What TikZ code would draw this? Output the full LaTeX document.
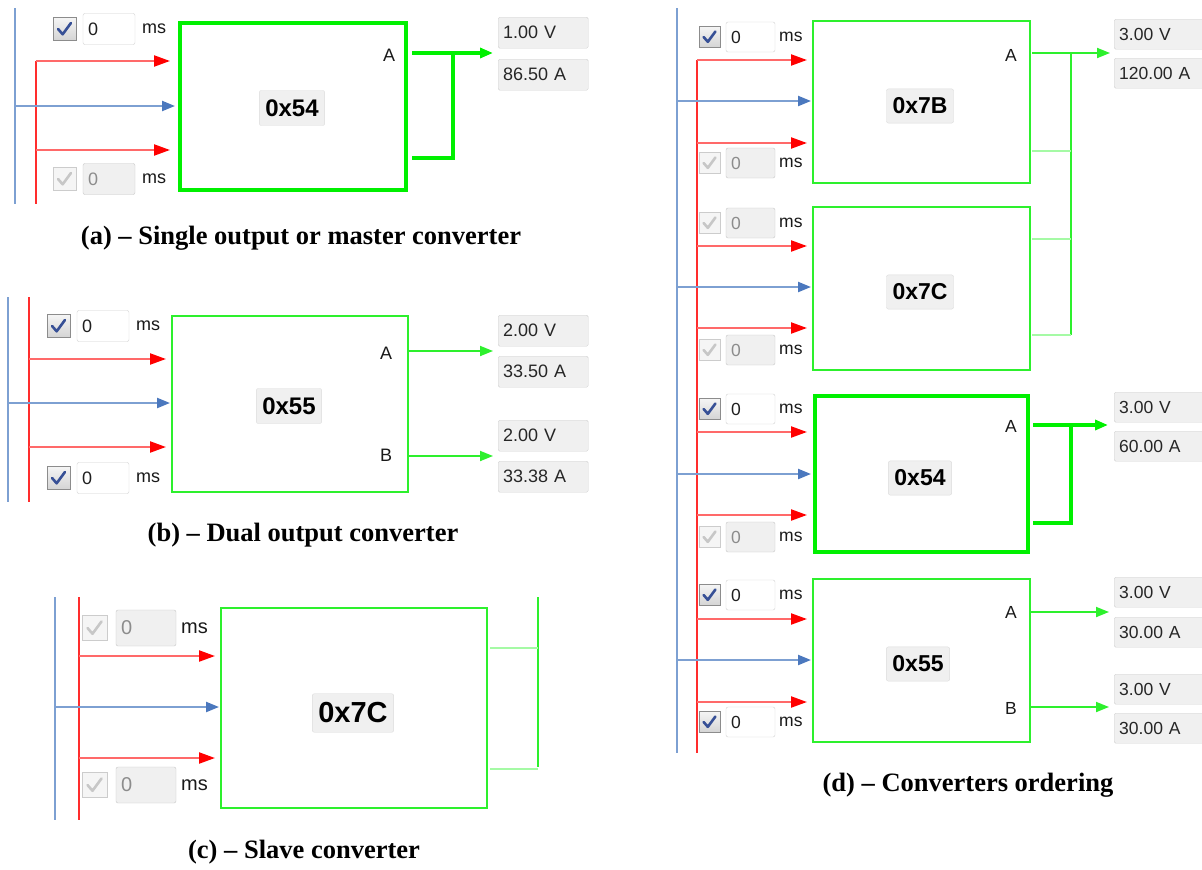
\documentclass[tikz,border=0pt]{standalone}
\usepackage{fontspec}
\setmainfont{Liberation Serif}
\newfontfamily\uifont{Liberation Sans}
\usetikzlibrary{arrows.meta,calc}
\definecolor{gthick}{RGB}{0,240,0}
\definecolor{gthin}{RGB}{45,240,45}
\definecolor{glight}{RGB}{165,250,165}
\definecolor{rline}{RGB}{255,105,105}
\definecolor{rbus}{RGB}{255,45,45}
\definecolor{rtip}{RGB}{255,0,0}
\definecolor{bline}{RGB}{125,160,210}
\definecolor{btip}{RGB}{75,120,190}
\definecolor{chkblue}{RGB}{55,80,150}
\def\cs{23}\def\tbtw{42}\def\tbh{31}\def\tbgap{7}\def\msgap{7}\def\uisz{18}\def\btnsz{24}
\tikzset{
 convthin/.style={draw=gthin, line width=1.6pt, inner sep=0pt, outer sep=0pt, anchor=north west},
 convthick/.style={draw=gthick, line width=3.6pt, inner sep=0pt, outer sep=0pt, anchor=north west},
 btn/.style={draw=black!14, fill=black!6, rounded corners=2pt, inner xsep=6pt, inner ysep=9pt, font=\uifont\bfseries\fontsize{\btnsz}{\btnsz}\selectfont},
 uitext/.style={inner sep=0pt, font=\uifont\fontsize{\uisz}{\uisz}\selectfont, text=black!90},
 vbox/.style={draw=black!18, fill=black!6, rounded corners=1.5pt, text width=80pt, align=left, inner xsep=5pt, inner ysep=0pt, anchor=north west, font=\uifont\fontsize{\uisz}{\uisz}\selectfont, text=black!85},
 cbxE/.style={draw=black!45, top color=black!4, bottom color=black!17, inner sep=0pt, outer sep=0pt},
 cbxD/.style={draw=black!20, fill=black!4, inner sep=0pt, outer sep=0pt},
 ckE/.style={draw=chkblue, line width=2.6pt, line cap=round, line join=round},
 ckD/.style={draw=black!22, line width=2.6pt, line cap=round, line join=round},
 tbE/.style={draw=black!18, fill=white, rounded corners=2pt, inner xsep=5pt, inner ysep=0pt, outer sep=0pt, align=left, font=\uifont\fontsize{\uisz}{\uisz}\selectfont, text=black!88},
 tbD/.style={draw=black!22, fill=black!6, rounded corners=2pt, inner xsep=5pt, inner ysep=0pt, outer sep=0pt, align=left, font=\uifont\fontsize{\uisz}{\uisz}\selectfont, text=black!45},
 redbus/.style={draw=rbus, line width=1.6pt},
 bluebus/.style={draw=bline, line width=1.6pt},
 redarr/.style={draw=rline, line width=2.2pt, -{Triangle[length=16pt,width=11pt,color=rtip]}, shorten >=6pt},
 bluearr/.style={draw=bline, line width=2.2pt, -{Triangle[length=13pt,width=10pt,color=btip]}, shorten >=2pt},
 gthickline/.style={draw=gthick, line width=3.4pt},
 gthinline/.style={draw=gthin, line width=1.8pt},
 glightline/.style={draw=glight, line width=2.2pt},
 garr/.style={-{Triangle[length=13pt,width=10pt]}, shorten >=5pt},
 captext/.style={font=\bfseries\fontsize{26.5}{30}\selectfont, inner sep=0pt},
}
\newcommand\dly[4]{%
  \node[cbx#4, minimum size=\cs pt, anchor=west] (#1c) at (#2,#3) {};
  \draw[ck#4] ($(#1c.north west)+(0.22*\cs,0.5*\cs)$) -- ($(#1c.north west)+(0.42*\cs,0.73*\cs)$) -- ($(#1c.north west)+(0.78*\cs,0.24*\cs)$);
  \node[tb#4, anchor=west, text width=\tbtw pt, minimum height=\tbh pt] (#1t) at ($(#1c.east)+(\tbgap,0)$) {0};
  \node[uitext, anchor=west] (#1m) at ($(#1t.east)+(\msgap,0)$) {ms};
}
\begin{document}
\begin{tikzpicture}[x=1pt,y=-1pt]
\useasboundingbox[fill=white] (0,0) rectangle (1202,870);

%%%%%%%%%%%%%%%% Panel (a)
\node[convthick, minimum width=226pt, minimum height=167pt] (A) at (180,23) {};
\node[btn] (Albl) at (292,108) {0x54};
\node[uitext] (AlA) at (389,55) {A};
\coordinate (Ab1) at (15,8); \coordinate (Ab2) at (15,204);
\coordinate (Ar1) at (36,61); \coordinate (Ar2) at (36,204);
\draw[bluebus] (Ab1) -- (Ab2);
\draw[redbus] (Ar1) -- (Ar2);
\coordinate (Abj) at (15,106); \coordinate (Ar3) at (36,150);
\draw[redarr, shorten >=10pt] (Ar1) -- (Ar1 -| A.west);
\draw[bluearr, shorten >=5pt] (Abj) -- (Abj -| A.west);
\draw[redarr, shorten >=10pt] (Ar3) -- (Ar3 -| A.west);
\dly{Ad1}{53}{29}{E}
\dly{Ad2}{53}{179}{D}
\node[vbox, minimum height=31pt] (Av1) at (498,17) {1.00 V};
\node[vbox, minimum height=31pt] (Av2) at (498,59) {86.50 A};
\coordinate (Ao1) at (412,53); \coordinate (Aj1) at (453,53);
\coordinate (Aj2) at (453,158); \coordinate (Ao2) at (412,158);
\draw[gthickline, garr] (Ao1) -- (Ao1 -| Av1.west);
\draw[gthickline] (Aj1) -- (Aj2) -- (Ao2);
\node[captext] (capa) at (301,238) {(a) – Single output or master converter};

%%%%%%%%%%%%%%%% Panel (b)
\node[convthin, minimum width=236pt, minimum height=176pt] (B) at (172,316) {};
\node[btn] (Blbl) at (289,406) {0x55};
\node[uitext] (BlA) at (386,353) {A};
\node[uitext] (BlB) at (386,455) {B};
\coordinate (Bb1) at (8,297); \coordinate (Bb2) at (8,502);
\coordinate (Br1) at (29,297); \coordinate (Br2) at (29,502);
\draw[bluebus] (Bb1) -- (Bb2);
\draw[redbus] (Br1) -- (Br2);
\coordinate (Bra) at (29,359); \coordinate (Bbj) at (8,403); \coordinate (Brb) at (29,447);
\draw[redarr] (Bra) -- (Bra -| B.west);
\draw[bluearr] (Bbj) -- (Bbj -| B.west);
\draw[redarr] (Brb) -- (Brb -| B.west);
\dly{Bd1}{47}{326}{E}
\dly{Bd2}{47}{478}{E}
\node[vbox, minimum height=31pt] (Bv1) at (498,315) {2.00 V};
\node[vbox, minimum height=31pt] (Bv2) at (498,356) {33.50 A};
\node[vbox, minimum height=31pt] (Bv3) at (498,420) {2.00 V};
\node[vbox, minimum height=31pt] (Bv4) at (498,461) {33.38 A};
\coordinate (Bo1) at (409,351); \coordinate (Bo2) at (409,456);
\draw[gthinline, garr] (Bo1) -- (Bo1 -| Bv1.west);
\draw[gthinline, garr] (Bo2) -- (Bo2 -| Bv3.west);
\node[captext] (capb) at (303,535) {(b) – Dual output converter};

%%%%%%%%%%%%%%%% Panel (c)
\def\cs{25}\def\tbtw{50}\def\tbh{36}\def\tbgap{9}\def\msgap{5}\def\uisz{20}\def\btnsz{29}
\node[convthin, minimum width=266pt, minimum height=200pt] (C) at (221,608) {};
\node[btn] (Clbl) at (353,713) {0x7C};
\coordinate (Cb1) at (55,597); \coordinate (Cb2) at (55,820);
\coordinate (Cr1) at (79,597); \coordinate (Cr2) at (79,820);
\draw[bluebus] (Cb1) -- (Cb2);
\draw[redbus] (Cr1) -- (Cr2);
\coordinate (Cra) at (79,656); \coordinate (Cbj) at (55,707); \coordinate (Crb) at (79,758);
\draw[redarr] (Cra) -- (Cra -| C.west);
\draw[bluearr] (Cbj) -- (Cbj -| C.west);
\draw[redarr] (Crb) -- (Crb -| C.west);
\dly{Cd1}{82}{628}{D}
\dly{Cd2}{82}{785}{D}
\coordinate (Co1) at (490,648); \coordinate (Co2) at (490,769);
\coordinate (Cv1) at (538,597); \coordinate (Cv2) at (538,767);
\draw[gthinline] (Cv1) -- (Cv2);
\draw[glightline] (Co1) -- (Co1 -| Cv1);
\draw[glightline] (Co2) -- (Co2 -| Cv1);
\node[captext] (capc) at (304,852) {(c) – Slave converter};

%%%%%%%%%%%%%%%% Panel (d)
\def\cs{21}\def\tbtw{39}\def\tbh{30}\def\tbgap{6}\def\msgap{4}\def\uisz{17.5}\def\btnsz{23}
\node[convthin, minimum width=217pt, minimum height=162pt] (D1) at (813,21) {};
\node[convthin, minimum width=217pt, minimum height=163pt] (D2) at (813,207) {};
\node[convthick, minimum width=213pt, minimum height=156pt] (D3) at (815,396) {};
\node[convthin, minimum width=217pt, minimum height=163pt] (D4) at (813,579) {};
\node[btn] (D1lbl) at (920,106) {0x7B};
\node[btn] (D2lbl) at (920,292) {0x7C};
\node[btn] (D3lbl) at (920,478) {0x54};
\node[btn] (D4lbl) at (918,664) {0x55};
\node[uitext] (D1A) at (1011,55) {A};
\node[uitext] (D3A) at (1011,426) {A};
\node[uitext] (D4A) at (1011,612) {A};
\node[uitext] (D4B) at (1011,708) {B};
\coordinate (Db1) at (677,8); \coordinate (Db2) at (677,753);
\coordinate (Dr1) at (697,60); \coordinate (Dr2) at (697,753);
\draw[bluebus] (Db1) -- (Db2);
\draw[redbus] (Dr1) -- (Dr2);
% inputs
\coordinate (D1ra) at (697,60);  \coordinate (D1bj) at (677,101); \coordinate (D1rb) at (697,143);
\coordinate (D2ra) at (697,246); \coordinate (D2bj) at (677,287); \coordinate (D2rb) at (697,328);
\coordinate (D3ra) at (697,432); \coordinate (D3bj) at (677,474); \coordinate (D3rb) at (697,515);
\coordinate (D4ra) at (697,619); \coordinate (D4bj) at (677,660); \coordinate (D4rb) at (697,702);
\foreach \k/\b in {D1/D1,D2/D2,D4/D4}{
  \draw[redarr] (\k ra) -- (\k ra -| \b.west);
  \draw[bluearr] (\k bj) -- (\k bj -| \b.west);
  \draw[redarr] (\k rb) -- (\k rb -| \b.west);
}
\draw[redarr, shorten >=8pt] (D3ra) -- (D3ra -| D3.west);
\draw[bluearr, shorten >=4pt] (D3bj) -- (D3bj -| D3.west);
\draw[redarr, shorten >=8pt] (D3rb) -- (D3rb -| D3.west);
\dly{Dd1}{699}{37}{E}
\dly{Dd2}{699}{163}{D}
\dly{Dd3}{699}{223}{D}
\dly{Dd4}{699}{350}{D}
\dly{Dd5}{699}{409}{E}
\dly{Dd6}{699}{537}{D}
\dly{Dd7}{699}{595}{E}
\dly{Dd8}{699}{722}{E}
% value boxes
\node[vbox, minimum height=30pt] (Dv1) at (1114,19) {3.00 V};
\node[vbox, minimum height=30pt] (Dv2) at (1114,58) {120.00 A};
\node[vbox, minimum height=30pt] (Dv3) at (1114,392) {3.00 V};
\node[vbox, minimum height=30pt] (Dv4) at (1114,431) {60.00 A};
\node[vbox, minimum height=30pt] (Dv5) at (1114,577) {3.00 V};
\node[vbox, minimum height=30pt] (Dv6) at (1114,617) {30.00 A};
\node[vbox, minimum height=30pt] (Dv7) at (1114,674) {3.00 V};
\node[vbox, minimum height=30pt] (Dv8) at (1114,713) {30.00 A};
% outputs
\coordinate (D1o) at (1032,53); \coordinate (Dj1) at (1071,53); \coordinate (Dj2) at (1071,335);
\coordinate (D1s) at (1032,151); \coordinate (D2s1) at (1032,239); \coordinate (D2s2) at (1032,335);
\draw[gthinline, garr, shorten >=4pt] (D1o) -- (D1o -| Dv1.west);
\draw[gthinline] (Dj1) -- (Dj2);
\draw[glightline] (D1s) -- (D1s -| Dj1);
\draw[glightline] (D2s1) -- (D2s1 -| Dj1);
\draw[glightline] (D2s2) -- (D2s2 -| Dj1);
\coordinate (D3o) at (1033,425); \coordinate (D3j1) at (1071,425); \coordinate (D3j2) at (1071,523); \coordinate (D3o2) at (1033,523);
\draw[gthickline, garr, shorten >=6pt] (D3o) -- (D3o -| Dv3.west);
\draw[gthickline] (D3j1) -- (D3j2) -- (D3o2);
\coordinate (D4o1) at (1031,612); \coordinate (D4o2) at (1031,707);
\draw[gthinline, garr, shorten >=5pt] (D4o1) -- (D4o1 -| Dv5.west);
\draw[gthinline, garr, shorten >=5pt] (D4o2) -- (D4o2 -| Dv7.west);
\node[captext] (capd) at (968,785) {(d) – Converters ordering};
\end{tikzpicture}
\end{document}
